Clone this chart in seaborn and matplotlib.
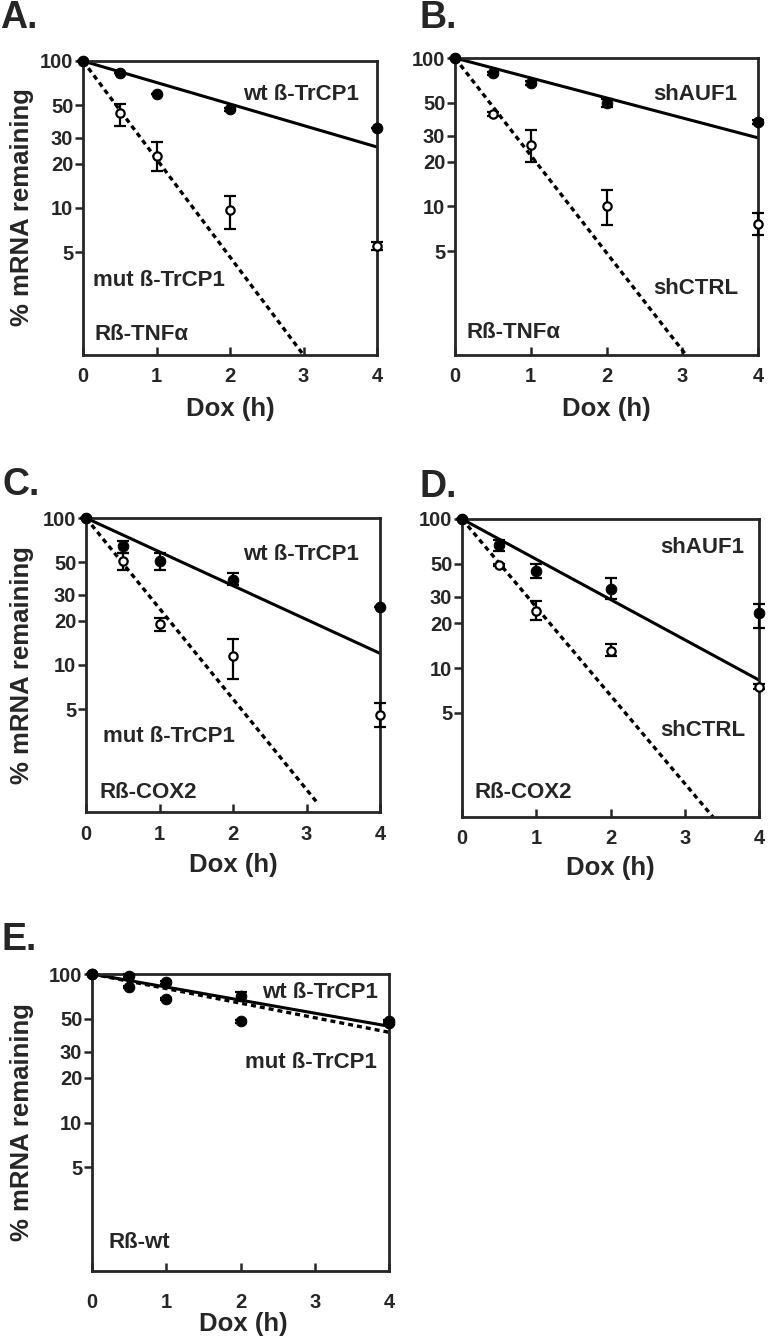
import matplotlib
matplotlib.use("Agg")
import matplotlib.pyplot as plt
import seaborn as sns
import pandas as pd

# sampling times (h)
hours = [0, 0.5, 1, 2, 4]

# panel A: R-beta-TNFa, wt vs mut beta-TrCP1
a_wt = [100, 83, 60, 47, 35]
a_wt_lo = [100, 83, 60, 46, 35]
a_wt_hi = [100, 83, 60, 48, 35]
a_mut = [100, 44, 22.5, 9.7, 5.5]
a_mut_lo = [100, 36, 17.8, 7.2, 5.2]
a_mut_hi = [100, 51, 28, 12, 5.9]
a_wt_fit = ([0, 4], [100, 26])
a_mut_fit = ([0, 3], [100, 1])

# panel B: R-beta-TNFa, shAUF1 vs shCTRL
b_wt = [100, 79, 68, 50, 37]
b_wt_lo = [100, 77, 66, 47, 36]
b_wt_hi = [100, 81, 70, 53, 38]
b_mut = [100, 42, 26, 10, 7.6]
b_mut_lo = [100, 40.5, 20, 7.5, 6.4]
b_mut_hi = [100, 43.5, 33, 13, 9]
b_wt_fit = ([0, 4], [100, 29])
b_mut_fit = ([0, 3.05], [100, 1])

# panel C: R-beta-COX2, wt vs mut beta-TrCP1
c_wt = [100, 64, 51, 38, 25]
c_wt_lo = [100, 58, 44, 35, 25]
c_wt_hi = [100, 70, 58, 42, 25]
c_mut = [100, 51, 19, 11.5, 4.6]
c_mut_lo = [100, 44, 17, 8, 3.8]
c_mut_hi = [100, 58, 21, 15, 5.5]
c_wt_fit = ([0, 4], [100, 12])
c_mut_fit = ([0, 3.15], [100, 1.15])

# panel D: R-beta-COX2, shAUF1 vs shCTRL
d_wt = [100, 67, 45, 34, 23.5]
d_wt_lo = [100, 61, 40, 29, 18.5]
d_wt_hi = [100, 72, 50, 40, 27]
d_mut = [100, 49, 24, 13, 7.5]
d_mut_lo = [100, 48, 21, 12, 7.2]
d_mut_hi = [100, 50, 28, 14.5, 7.8]
d_wt_fit = ([0, 4], [100, 8.3])
d_mut_fit = ([0, 3.38], [100, 1])

# panel E: R-beta-wt, wt vs mut beta-TrCP1
e_wt = [100, 97, 88, 71, 48]
e_wt_lo = [100, 95, 86, 66, 47]
e_wt_hi = [100, 100, 90, 76, 49]
e_mut = [100, 82, 68, 48, 47]
e_mut_lo = [100, 81, 67, 47, 46]
e_mut_hi = [100, 83, 69, 49, 48]
e_wt_fit = ([0, 4], [100, 44.5])
e_mut_fit = ([0, 4], [100, 40.5])

y_ticks = [5, 10, 20, 30, 50, 100]
x_ticks = [0, 1, 2, 3, 4]

sns.set_style("ticks")
plt.rcParams['font.family'] = ['Liberation Sans', 'DejaVu Sans']
plt.rcParams['font.weight'] = 'bold'

W, H = 780, 1339
fig = plt.figure(figsize=(W / 100, H / 100), dpi=100)


def px_axes(l, t, r, b):
    return fig.add_axes([l / W, 1 - b / H, (r - l) / W, (b - t) / H])


def px_text(x, y, s, size, ha='left', rotation=0):
    fig.text(x / W, 1 - y / H, s, fontsize=size, fontweight='bold',
             ha=ha, va='center', rotation=rotation)


def points(ax, vals, lo, hi, filled):
    err = [[v - l for v, l in zip(vals, lo)], [h - v for v, h in zip(vals, hi)]]
    eb = ax.errorbar(hours, vals, yerr=err, fmt='none', ecolor='black',
                     elinewidth=1.6, capsize=4, capthick=1.6, zorder=4)
    for a in list(eb.lines[1]) + list(eb.lines[2]):
        a.set_clip_on(False)
    if filled:
        sns.scatterplot(x=hours, y=vals, ax=ax, color='black', edgecolor='black',
                        s=60, zorder=5, clip_on=False)
    else:
        sns.scatterplot(x=hours, y=vals, ax=ax, color='white', edgecolor='black',
                        linewidth=1.6, s=36, zorder=5, clip_on=False)


def panel(box, wt, wt_lo, wt_hi, mut, mut_lo, mut_hi, wt_fit, mut_fit,
          mut_filled=False, xpad=9):
    ax = px_axes(*box)
    ax.set_yscale('log')
    sns.lineplot(x=wt_fit[0], y=wt_fit[1], ax=ax, color='black', lw=2.2)
    sns.lineplot(x=mut_fit[0], y=mut_fit[1], ax=ax, color='black', lw=2.4,
                 linestyle=(0, (1.5, 1.2)))
    points(ax, mut, mut_lo, mut_hi, mut_filled)
    points(ax, wt, wt_lo, wt_hi, True)
    ax.set_xlim(0, 4)
    ax.set_ylim(1, 100)
    ax.set_xticks(x_ticks)
    ax.set_xticklabels([str(v) for v in x_ticks])
    ax.set_yticks(y_ticks)
    ax.set_yticklabels([str(v) for v in y_ticks])
    ax.minorticks_off()
    ax.tick_params(axis='y', direction='out', length=6, width=1.8, labelsize=14.5, pad=1)
    ax.tick_params(axis='x', direction='in', length=6, width=1.8, labelsize=14.5, pad=xpad)
    for s in ax.spines.values():
        s.set_linewidth(2)
    ax.set_xlabel('')
    ax.set_ylabel('')
    return ax


panel((83, 61, 377, 355), a_wt, a_wt_lo, a_wt_hi, a_mut, a_mut_lo, a_mut_hi, a_wt_fit, a_mut_fit)
panel((455, 58, 758, 355), b_wt, b_wt_lo, b_wt_hi, b_mut, b_mut_lo, b_mut_hi, b_wt_fit, b_mut_fit)
panel((86, 518, 380, 812), c_wt, c_wt_lo, c_wt_hi, c_mut, c_mut_lo, c_mut_hi, c_wt_fit, c_mut_fit)
panel((462, 519, 759, 817), d_wt, d_wt_lo, d_wt_hi, d_mut, d_mut_lo, d_mut_hi, d_wt_fit, d_mut_fit)
panel((92, 974, 389, 1271), e_wt, e_wt_lo, e_wt_hi, e_mut, e_mut_lo, e_mut_hi, e_wt_fit, e_mut_fit,
      mut_filled=True, xpad=16)

# panel letters
px_text(0, 18, 'A.', 27)
px_text(420, 18, 'B.', 27)
px_text(2, 485, 'C.', 27)
px_text(420, 487, 'D.', 27)
px_text(2, 940, 'E.', 27)

# axis titles
for yc in [207, 665, 1122]:
    px_text(22, yc, '% mRNA remaining', 18.5, ha='center', rotation=90)
for xc, yc in [(230, 409), (606, 409), (233, 865), (610, 868), (243, 1324)]:
    px_text(xc, yc, 'Dox (h)', 18.5, ha='center')

# curve annotations
px_text(243, 95, 'wt ß-TrCP1', 16)
px_text(93, 280, 'mut ß-TrCP1', 16)
px_text(94, 334, 'Rß-TNFα', 16)
px_text(653, 95, 'shAUF1', 16)
px_text(653, 289, 'shCTRL', 16)
px_text(467, 333, 'Rß-TNFα', 16)
px_text(243, 555, 'wt ß-TrCP1', 16)
px_text(103, 737, 'mut ß-TrCP1', 16)
px_text(100, 792, 'Rß-COX2', 16)
px_text(660, 547, 'shAUF1', 16)
px_text(660, 730, 'shCTRL', 16)
px_text(475, 792, 'Rß-COX2', 16)
px_text(262, 992, 'wt ß-TrCP1', 16)
px_text(245, 1062, 'mut ß-TrCP1', 16)
px_text(108, 1243, 'Rß-wt', 16)

fig.savefig('out.png', dpi=100)
